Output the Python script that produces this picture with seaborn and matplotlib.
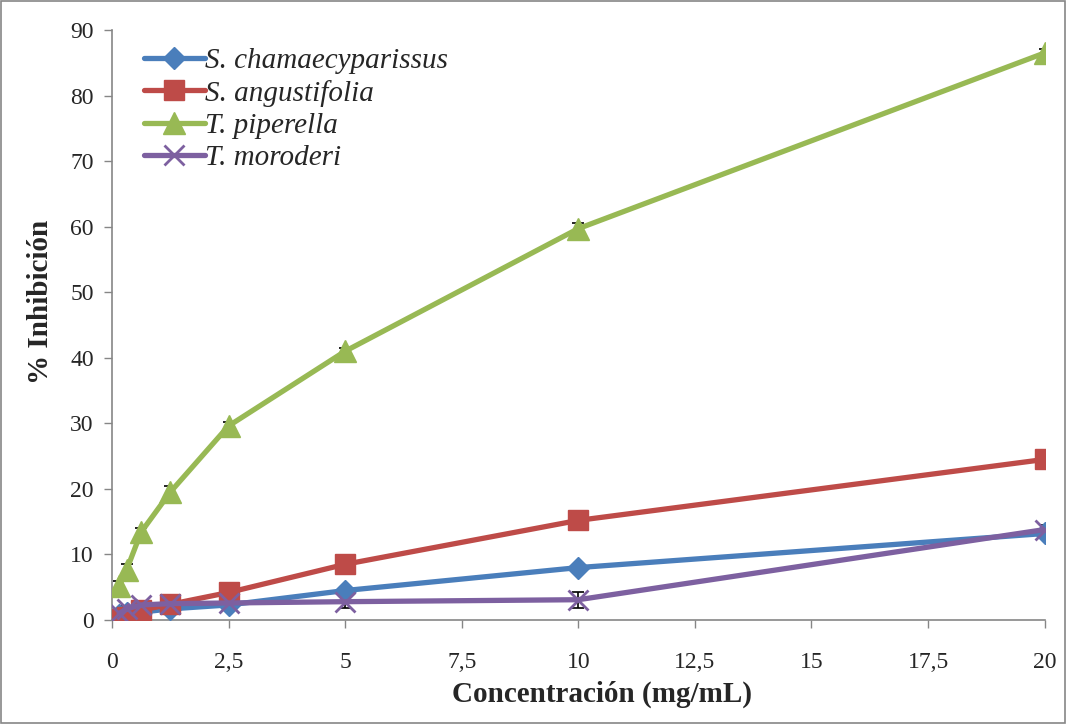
import numpy as np
import pandas as pd
import matplotlib
matplotlib.use("Agg")
import matplotlib.pyplot as plt
import seaborn as sns
from matplotlib.ticker import FuncFormatter

sns.set_theme(style="white")
plt.rcParams['font.family'] = ['Liberation Serif', 'DejaVu Serif']

conc = [0.156, 0.3125, 0.625, 1.25, 2.5, 5, 10, 20]
series_names = ["S. chamaecyparissus", "S. angustifolia", "T. piperella", "T. moroderi"]
s_chamae = [0.8, 1.0, 1.2, 1.7, 2.3, 4.5, 8.0, 13.2]
s_angust = [0.2, 0.5, 1.5, 2.4, 4.2, 8.5, 15.2, 24.5]
t_piper = [5.2, 7.6, 13.4, 19.5, 29.6, 41.0, 59.7, 86.5]
t_morod = [1.0, 1.7, 2.3, 2.5, 2.6, 2.8, 3.1, 13.8]
err_chamae = [0.3, 0.3, 0.3, 0.4, 0.4, 0.5, 0.6, 0.6]
err_angust = [0.3, 0.3, 0.3, 0.4, 0.4, 0.4, 0.5, 0.5]
err_piper = [0.8, 1.0, 0.6, 1.0, 0.6, 0.5, 0.8, 0.6]
err_morod = [0.4, 0.4, 0.4, 0.4, 0.5, 1.0, 1.2, 0.7]

colors = ["#4a7ebb", "#be4b48", "#98b954", "#7d60a0"]
markers = ["D", "s", "^", "x"]
msizes = [11, 15, 16, 14]

values = [s_chamae, s_angust, t_piper, t_morod]
errors = [err_chamae, err_angust, err_piper, err_morod]

df = pd.DataFrame({
    "conc": conc * 4,
    "val": sum(values, []),
    "serie": sum([[n] * len(conc) for n in series_names], []),
})

fig = plt.figure(figsize=(10.66, 7.24), dpi=100)
ax = fig.add_axes([0.105, 0.1436, 0.875, 0.815])

for name, c, e, v in zip(series_names, colors, errors, values):
    ax.errorbar(conc, v, yerr=e, fmt="none", ecolor="black", elinewidth=1.2,
                capsize=4, capthick=1.2, zorder=2)

for name, c, m, ms in zip(series_names, colors, markers, msizes):
    sub = df[df.serie == name]
    sns.lineplot(data=sub, x="conc", y="val", ax=ax, color=c, linewidth=3.8,
                 marker=m, markersize=ms, markeredgecolor=c,
                 markeredgewidth=2 if m == "x" else 1, label=name, zorder=3)

ax.set_xlim(0, 20)
ax.set_ylim(0, 90)
ax.set_xticks(np.arange(0, 20.1, 2.5))
ax.set_yticks(np.arange(0, 91, 10))
ax.xaxis.set_major_formatter(FuncFormatter(lambda x, p: ("%g" % x).replace(".", ",")))
ax.tick_params(axis="both", labelsize=17, direction="out", length=6, width=1,
               color="#868686", bottom=True, left=True, pad=7)
ax.tick_params(axis="x", pad=17)
for s in ["top", "right"]:
    ax.spines[s].set_visible(False)
for s in ["left", "bottom"]:
    ax.spines[s].set_color("#868686")
    ax.spines[s].set_linewidth(1.2)

ax.set_xlabel("Concentración (mg/mL)", fontsize=21, fontweight="bold")
ax.set_ylabel("% Inhibición", fontsize=21, fontweight="bold")
ax.xaxis.set_label_coords(0.525, -0.102)
ax.yaxis.set_label_coords(-0.062, 0.539)

leg = ax.legend(loc="upper left", bbox_to_anchor=(0.012, 1.005), frameon=False,
                fontsize=21, handlelength=2.1, handletextpad=0.0, labelspacing=0.2,
                borderaxespad=0.3)
for t in leg.get_texts():
    t.set_fontstyle("italic")

# outer border
fig.patches.append(matplotlib.patches.Rectangle((0.001, 0.001), 0.998, 0.998,
                   transform=fig.transFigure, fill=False, edgecolor="#868686", linewidth=1.2))

fig.savefig("out.png", dpi=100)
